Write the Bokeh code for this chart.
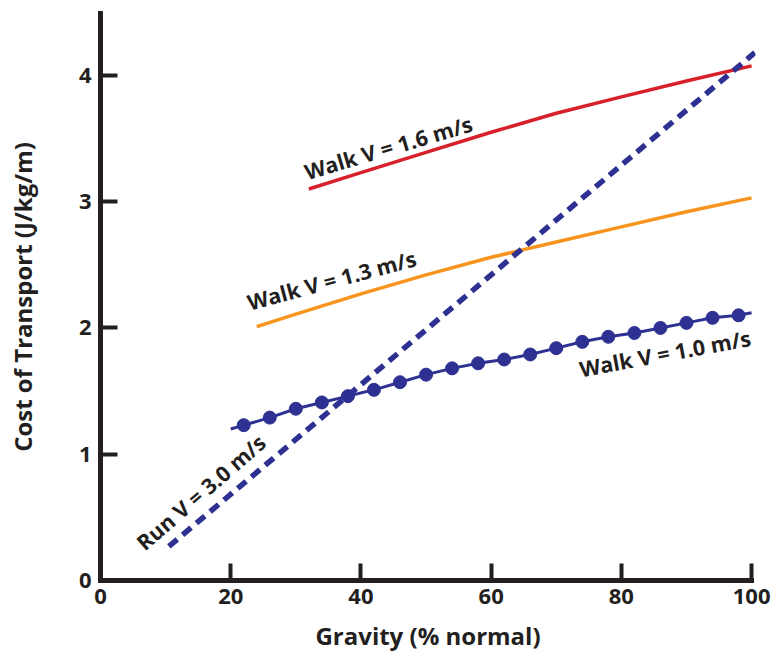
import math
from bokeh.plotting import figure
from bokeh.models import Range1d, ColumnDataSource, FixedTicker
from bokeh.core.properties import value
from bokeh.embed import file_html
from bokeh.resources import INLINE

# ---- data ----
x_ticks = [0, 20, 40, 60, 80, 100]
y_ticks = [0, 1, 2, 3, 4]

run_x = [10.5, 100.5]
run_y = [0.27, 4.18]

walk16_x = [32, 40, 50, 60, 70, 80, 90, 100]
walk16_y = [3.10, 3.23, 3.39, 3.55, 3.70, 3.83, 3.955, 4.075]

walk13_x = [24, 30, 40, 50, 60, 70, 80, 90, 100]
walk13_y = [2.01, 2.11, 2.27, 2.42, 2.56, 2.68, 2.80, 2.92, 3.03]

walk10_dot_x = [22, 26, 30, 34, 38, 42, 46, 50, 54, 58, 62, 66, 70, 74, 78, 82, 86, 90, 94, 98]
walk10_dot_y = [1.23, 1.29, 1.36, 1.41, 1.46, 1.51, 1.57, 1.63, 1.68, 1.72,
                1.75, 1.79, 1.84, 1.89, 1.93, 1.96, 2.00, 2.04, 2.08, 2.10]
walk10_start = (20, 1.20)
walk10_end = (100, 2.12)

label_text = ["Walk V = 1.6 m/s", "Walk V = 1.3 m/s", "Walk V = 1.0 m/s", "Run V = 3.0 m/s"]
label_x = [44.2, 35.5, 86.7, 15.4]
label_y = [3.43, 2.38, 1.80, 0.70]
label_angle = [16.5, 15.0, 10.5, 41.0]

# ---- style ----
INK = "#231f20"
RED = "#d7202a"
ORANGE = "#f7941d"
NAVY = "#2e3192"
FONT = "Open Sans"

p = figure(width=778, height=659, output_backend="svg", toolbar_location=None,
           x_range=Range1d(0, 100.6), y_range=Range1d(0, 4.49),
           min_border_left=100, min_border_right=23, min_border_top=13, min_border_bottom=79)
p.outline_line_color = None
p.xgrid.visible = False
p.ygrid.visible = False
p.background_fill_color = "white"

for ax in (p.xaxis[0], p.yaxis[0]):
    ax.axis_line_width = 5
    ax.axis_line_color = INK
    ax.axis_line_cap = "square"
    ax.major_tick_line_width = 4
    ax.major_tick_line_color = INK
    ax.major_tick_in = 17
    ax.major_tick_out = 0
    ax.minor_tick_line_color = None
    ax.major_label_text_font = FONT
    ax.major_label_text_font_style = "bold"
    ax.major_label_text_font_size = "22px"
    ax.major_label_text_color = INK
    ax.axis_label_text_font = FONT
    ax.axis_label_text_font_style = "bold"
    ax.axis_label_text_font_size = "24px"
    ax.axis_label_text_color = INK

p.xaxis.ticker = FixedTicker(ticks=x_ticks)
p.yaxis.ticker = FixedTicker(ticks=y_ticks)
p.xaxis.bounds = (0, 100)
p.xaxis.major_label_standoff = 8
p.yaxis.major_label_standoff = 9
p.xaxis.axis_label = "Gravity (% normal)"
p.yaxis.axis_label = "Cost of Transport (J/kg/m)"
p.xaxis.axis_label_standoff = 12
p.yaxis.axis_label_standoff = 37

# lines
p.line(walk16_x, walk16_y, line_color=RED, line_width=3.5)
p.line(walk13_x, walk13_y, line_color=ORANGE, line_width=3.5)
wl_x = [walk10_start[0]] + walk10_dot_x + [walk10_end[0]]
wl_y = [walk10_start[1]] + walk10_dot_y + [walk10_end[1]]
p.line(wl_x, wl_y, line_color=NAVY, line_width=3)
p.scatter(walk10_dot_x, walk10_dot_y, size=13, fill_color=NAVY, line_color=NAVY)
p.line(run_x, run_y, line_color=NAVY, line_width=5.5, line_dash="11 7")

src = ColumnDataSource(dict(x=label_x, y=label_y, text=label_text,
                            angle=[math.radians(a) for a in label_angle]))
p.text(x="x", y="y", text="text", angle="angle", source=src,
       text_font=value(FONT), text_font_style="bold", text_font_size="21.5px",
       text_color=INK, text_align="center", text_baseline="middle")

open("out.html", "w").write(file_html(p, INLINE))
